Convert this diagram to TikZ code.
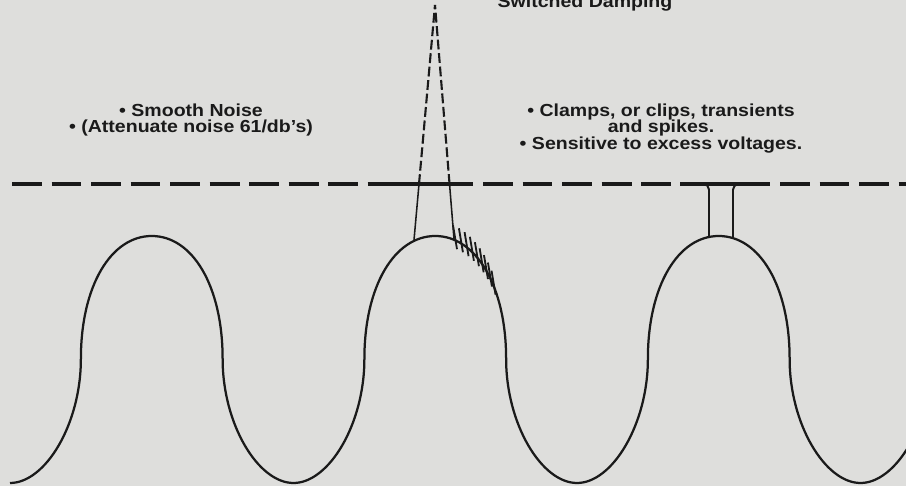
\documentclass[tikz,border=0pt]{standalone}
\usepackage{fontspec}
\setmainfont{Liberation Sans}[FakeStretch=1.12]
\usepackage{xcolor}
\usepackage{tikz}
\usetikzlibrary{calc}
\definecolor{paper}{RGB}{222,222,220}
\definecolor{ink}{RGB}{26,26,26}

\begin{document}
\begin{tikzpicture}[x=0.025cm, y=0.025cm,
        wave/.style={draw=ink, line width=1.6pt, line join=round},
        rail/.style={draw=ink, line width=2.2pt, dash pattern=on 21.3pt off 6.8pt},
        railsolid/.style={draw=ink, line width=2.2pt},
        spike/.style={draw=ink, line width=1.1pt},
        spikedash/.style={draw=ink, line width=1.5pt, dash pattern=on 7pt off 2.6pt},
        tube/.style={draw=ink, line width=1.4pt, rounded corners=4pt},
        hatch/.style={draw=ink, line width=1.3pt},
        note/.style={text=ink, align=center, font=\fontsize{12.4}{11.7}\selectfont\bfseries}
      ]
        \useasboundingbox (0,0) rectangle (906,486);
        \fill[paper] (0,0) rectangle (906,486);
        \clip (0,0) rectangle (906,486);
        % limit line
        \draw[rail] (12,302) -- (385,302);
        \draw[railsolid] (385,302) -- (473,302);
        \draw[rail] (483,302) -- (680,302);
        \draw[railsolid] (680,302) -- (770,302);
        \draw[rail] (780,302) -- (906,302);
        % spike on the middle peak
        \coordinate (apex) at (435,481);
        \coordinate (spkL) at (414,246);
        \coordinate (spkR) at (454,247);
        \coordinate (crossL) at ($(spkL)!0.238!(apex)$);
        \coordinate (crossR) at ($(spkR)!0.235!(apex)$);
        \draw[spike] (spkL) -- (crossL); \draw[spike] (spkR) -- (crossR);
        \draw[spikedash] (crossL) -- (apex); \draw[spikedash] (crossR) -- (apex);
        % clamp on the right peak
        \draw[tube] (709,248.5) -- (709,302) -- (698,302);
        \draw[tube] (733,248.5) -- (733,302) -- (744,302);
        % signal
        \draw[wave] (10,3)
          \foreach \k [evaluate=\k as \tx using 10+283.5*\k] in {0,...,4} {
            .. controls ({\tx+35.44},3) and ({\tx+70.875},62) .. ({\tx+70.875},127)
            .. controls ({\tx+70.875},200) and ({\tx+101},250) .. ({\tx+141.75},250)
            .. controls ({\tx+182.5},250) and ({\tx+212.625},200) .. ({\tx+212.625},127)
            .. controls ({\tx+212.625},62) and ({\tx+248.06},3) .. ({\tx+283.5},3)
          };
        % hatching where the spike is cut
        \path (435.25,250) .. controls (476,250) and (506.125,200) .. (506.125,127)
          coordinate[pos=0.17] (h1) coordinate[pos=0.225] (h2) coordinate[pos=0.28] (h3)
          coordinate[pos=0.335] (h4) coordinate[pos=0.39] (h5) coordinate[pos=0.445] (h6)
          coordinate[pos=0.50] (h7) coordinate[pos=0.555] (h8) coordinate[pos=0.61] (h9);
        \foreach \i in {1,...,9} {\draw[hatch] (h\i) ++(-2,15) -- ++(4,-24);}
        % labels
        \node[note] (smooth) at (191,366) {• Smooth Noise\\• (Attenuate noise 61/db's)};
        \node[note] (clamps) at (661,357.5) {• Clamps, or clips, transients\\and spikes.\\• Sensitive to excess voltages.};
        \node[note, anchor=base] (title) at (585,478) {Switched Damping};
      \end{tikzpicture}
\end{document}
